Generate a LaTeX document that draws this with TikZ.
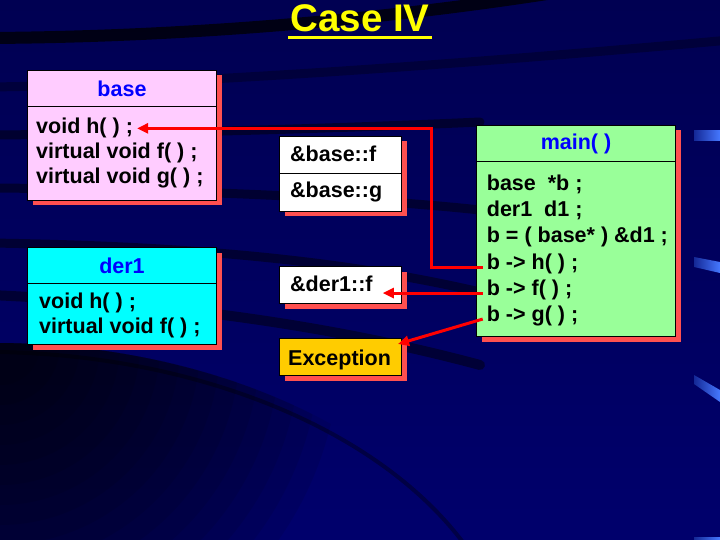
\documentclass[tikz,border=0pt]{standalone}
\usepackage{fontspec}
\setmainfont{Liberation Sans}
\usetikzlibrary{arrows.meta,shadows}
\definecolor{navy}{RGB}{0,0,102}
\definecolor{navytop}{RGB}{0,0,82}
\definecolor{navybot}{RGB}{0,0,108}
\definecolor{shred}{RGB}{255,80,80}
\definecolor{arrowred}{RGB}{255,0,0}
\definecolor{hblue}{RGB}{0,0,255}
\definecolor{pinkc}{RGB}{255,204,255}
\definecolor{cyanc}{RGB}{0,255,255}
\definecolor{greenc}{RGB}{153,255,153}
\definecolor{excc}{RGB}{255,204,0}
\definecolor{titley}{RGB}{255,255,0}
\definecolor{patchdark}{RGB}{20,40,150}
\definecolor{patchlight}{RGB}{70,120,255}
\begin{document}
\begin{tikzpicture}[x=1pt,y=-1pt,
  every node/.style={font=\fontsize{21.5}{26}\selectfont\bfseries},
  part/.style={draw=black, line width=1pt, rectangle, inner sep=0pt, anchor=north west,
    drop shadow={shadow xshift=5pt, shadow yshift=-5pt, fill=shred, draw=none, opacity=1}},
  hdr/.style={part, text=hblue},
  codeline/.style={anchor=base west, inner xsep=4pt, inner ysep=0pt, text=black},
  swoosh/.style={draw=black, line cap=round},
  redarrow/.style={draw=arrowred, line width=3pt, -{Triangle[length=11pt,width=10pt]}},
]
\useasboundingbox (0,0) rectangle (720,540);
% background
\begin{scope}
\clip (0,0) rectangle (720,540);
\shade[top color=navytop, bottom color=navybot] (0,0) rectangle (720,540);
\begin{scope}
\clip (0,343) .. controls (200,345) and (380,420) .. (475,545) -- (0,545) -- cycle;
\foreach \r in {340,320,...,40} {\fill[black, opacity=0.08] (0,345) circle (\r);}
\end{scope}
\draw[swoosh, line width=4pt, opacity=0.35] (0,352) .. controls (200,356) and (380,430) .. (465,545);
\draw[swoosh, line width=12pt, opacity=0.75] (-10,38) .. controls (150,37) and (350,25) .. (560,-8);
\draw[swoosh, line width=9pt, opacity=0.3] (-10,87) .. controls (150,85) and (400,70) .. (730,40);
\draw[swoosh, line width=9pt, opacity=0.45] (-10,135) .. controls (150,134) and (350,128) .. (480,122);
\draw[swoosh, line width=9pt, opacity=0.45] (-10,188) .. controls (150,189) and (350,196) .. (480,210);
\draw[swoosh, line width=9pt, opacity=0.45] (-10,243) .. controls (200,246) and (350,262) .. (480,292);
\draw[swoosh, line width=10pt, opacity=0.45] (-10,295) .. controls (150,302) and (320,322) .. (480,365);
\shade[left color=patchdark, right color=patchlight] (694,131) rectangle (720,141);
\shade[left color=patchdark, right color=patchlight] (694,257) -- (720,262) -- (720,273) -- (694,267) -- cycle;
\shade[left color=patchdark, right color=patchlight] (694,375) -- (720,390) -- (720,402) -- (694,384) -- cycle;
\shade[left color=patchdark, right color=patchlight] (694,537) rectangle (720,540);
\end{scope}
% title
\node[font=\fontsize{38.5}{40}\selectfont\bfseries, text=titley, anchor=base, inner sep=0pt] (title) at (360,32) {Case IV};
\draw[titley, line width=2.7pt] ([xshift=-2pt,yshift=-5.5pt]title.base west) -- ([xshift=2pt,yshift=-5.5pt]title.base east);
% base
\node[hdr, fill=pinkc, minimum width=189pt, minimum height=36pt] (bhead) at (27,70) {base};
\node[part, fill=pinkc, minimum width=189pt, minimum height=94pt] (bbody) at (27,106) {};
\node[codeline] (vh) at (32,134) {void h( ) ;};
\node[codeline] (vf) at (32,159) {virtual void f( ) ;};
\node[codeline] (vg) at (32,184) {virtual void g( ) ;};
% der1
\node[hdr, fill=cyanc, minimum width=189pt, minimum height=36pt] (dhead) at (27,247) {der1};
\node[part, fill=cyanc, minimum width=189pt, minimum height=61pt] (dbody) at (27,283) {};
\node[codeline] (dh) at (35,308) {void h( ) ;};
\node[codeline] (df) at (35,333) {virtual void f( ) ;};
% vtables
\node[part, fill=white, minimum width=122pt, minimum height=37pt] (vt1) at (279,136) {};
\node[part, fill=white, minimum width=122pt, minimum height=38pt] (vt2) at (279,173) {};
\node[codeline] (bfp) at (286,161.5) {\&base::f};
\node[codeline] (bgp) at (286,198) {\&base::g};
\node[part, fill=white, minimum width=122pt, minimum height=37pt] (vt3) at (279,266) {};
\node[codeline] (d1f) at (286,291.5) {\&der1::f};
\node[part, fill=excc, minimum width=122pt, minimum height=37pt] (exc) at (279,338) {};
\node[codeline] (exct) at (284,365) {Exception};
% main
\node[hdr, fill=greenc, minimum width=199pt, minimum height=36pt] (mhead) at (476,125) {main( )};
\node[part, fill=greenc, minimum width=199pt, minimum height=175pt] (mbody) at (476,161) {};
\node[codeline] (m1) at (482.7,190.7) {base\ \ *b ;};
\node[codeline] (m2) at (482.7,216.7) {der1\ \ d1 ;};
\node[codeline] (m3) at (482.7,242.7) {b = ( base* ) \&d1 ;};
\node[codeline] (bh) at (482.7,269.7) {b -> h( ) ;};
\node[codeline] (bf) at (482.7,295.7) {b -> f( ) ;};
\node[codeline] (bg) at (482.7,321.7) {b -> g( ) ;};
% arrows
\draw[redarrow] (bh.mid west) -- ++(-51,0) |- ([yshift=3pt]vh.mid east);
\draw[redarrow] (bf.mid west) -- ([xshift=6pt]bf.mid west -| d1f.east);
\draw[redarrow] (bg.mid west) -- ([xshift=-4pt,yshift=-6pt]exc.north east);
\end{tikzpicture}
\end{document}
